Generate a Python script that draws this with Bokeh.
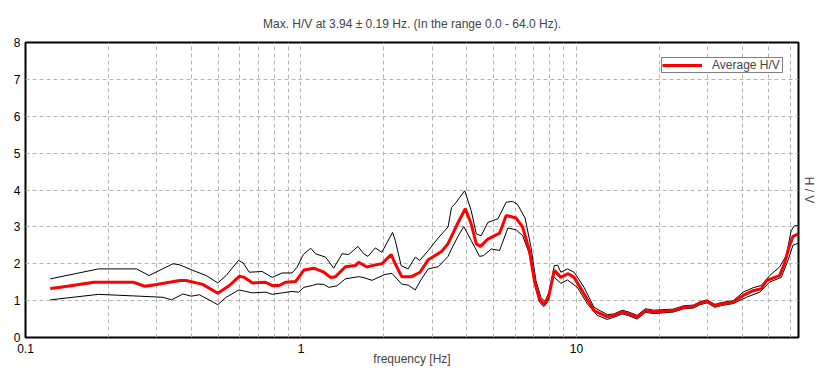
from bokeh.plotting import figure
from bokeh.models import (Range1d, FixedTicker, CustomJSTickFormatter, LinearAxis,
                          Legend, LegendItem)
from bokeh.embed import file_html
from bokeh.resources import INLINE

TITLE = "Max. H/V at 3.94 \u00b1 0.19 Hz. (In the range 0.0 - 64.0 Hz)."
X_LABEL = "frequency [Hz]"
Y_LABEL = "H / V"
LEGEND_LABEL = "Average H/V"

x_tick_values = [0.1, 1, 10]
y_tick_values = [0, 1, 2, 3, 4, 5, 6, 7, 8]
x_grid_values = [0.2, 0.3, 0.4, 0.5, 0.6, 0.7, 0.8, 0.9, 1, 2, 3, 4, 5, 6, 7, 8, 9,
                 10, 20, 30, 40, 50, 60]

freq_avg = [0.123, 0.134, 0.177, 0.246, 0.271, 0.299, 0.363, 0.383, 0.440, 0.499,
            0.550, 0.597, 0.623, 0.667, 0.705, 0.74, 0.788, 0.833, 0.881, 0.957,
            1.025, 1.114, 1.211, 1.280, 1.335, 1.450, 1.576, 1.620, 1.736, 1.861,
            1.966, 2.126, 2.185, 2.321, 2.523, 2.704, 2.898, 3.237, 3.422, 3.52,
            3.72, 3.95, 4.15, 4.33, 4.49, 4.77, 5.26, 5.56, 6.04, 6.38,
            6.75, 7.04, 7.34, 7.65, 7.92, 8.31, 8.78, 9.33, 9.81, 10.66,
            11.58, 12.94, 13.7, 14.66, 15.5, 16.6, 17.8, 19.1, 22.5, 24.5,
            26.6, 28.1, 29.8, 31.8, 33.7, 37.1, 40.3, 43.8, 46.9, 48.9,
            54.6, 56.9, 59.1, 61.1, 64.0]
hv_avg = [1.33, 1.36, 1.50, 1.50, 1.39, 1.44, 1.545, 1.545, 1.44, 1.20,
          1.41, 1.66, 1.63, 1.48, 1.49, 1.50, 1.41, 1.41, 1.50, 1.52,
          1.83, 1.88, 1.77, 1.63, 1.65, 1.92, 1.95, 2.04, 1.91, 1.97,
          2.00, 2.25, 2.04, 1.65, 1.65, 1.77, 2.11, 2.33, 2.55, 2.74,
          3.12, 3.49, 3.08, 2.54, 2.47, 2.67, 2.83, 3.31, 3.24, 2.99,
          2.36, 1.54, 1.05, 0.89, 1.09, 1.82, 1.63, 1.73, 1.63, 1.18,
          0.73, 0.56, 0.60, 0.69, 0.64, 0.55, 0.73, 0.69, 0.73, 0.82,
          0.84, 0.93, 0.98, 0.86, 0.91, 0.96, 1.14, 1.27, 1.32, 1.54,
          1.68, 2.00, 2.45, 2.74, 2.81]

freq_up = [0.123, 0.184, 0.253, 0.281, 0.343, 0.363, 0.405, 0.453, 0.499, 0.535,
           0.593, 0.617, 0.649, 0.723, 0.786, 0.854, 0.928, 0.967, 1.02, 1.085,
           1.13, 1.228, 1.315, 1.41, 1.49, 1.61, 1.69, 1.75, 1.861, 1.966,
           2.15, 2.20, 2.31, 2.45, 2.60, 2.70, 2.90, 3.15, 3.42, 3.52,
           3.62, 3.93, 4.15, 4.33, 4.51, 4.77, 5.19, 5.56, 5.87, 6.12,
           6.51, 6.84, 7.13, 7.43, 7.68, 7.97, 8.31, 8.55, 8.78, 9.28,
           9.81, 10.66, 11.58, 12.94, 13.7, 14.66, 15.5, 16.6, 17.8, 19.1,
           22.5, 24.5, 26.6, 28.1, 29.8, 31.8, 33.7, 37.1, 40.3, 43.8,
           46.9, 50.3, 54.6, 57.8, 60.2, 61.9, 64.0]
hv_up = [1.59, 1.86, 1.86, 1.68, 2.00, 1.97, 1.82, 1.68, 1.48, 1.68,
         2.09, 2.02, 1.77, 1.79, 1.63, 1.75, 1.75, 1.90, 2.25, 2.42,
         2.27, 2.18, 1.88, 2.27, 2.25, 2.47, 2.27, 2.20, 2.43, 2.31,
         2.85, 2.63, 1.95, 1.86, 2.18, 2.09, 2.36, 2.70, 3.00, 3.53,
         3.62, 3.98, 3.44, 2.81, 2.76, 3.12, 3.22, 3.67, 3.69, 3.60,
         3.24, 2.45, 1.54, 1.09, 0.98, 1.23, 1.95, 1.96, 1.77, 1.86,
         1.77, 1.36, 0.82, 0.62, 0.64, 0.74, 0.69, 0.60, 0.78, 0.74,
         0.77, 0.86, 0.88, 0.97, 1.02, 0.90, 0.95, 1.00, 1.23, 1.35,
         1.41, 1.68, 1.91, 2.22, 2.90, 3.03, 3.03]

freq_lo = [0.123, 0.184, 0.260, 0.316, 0.339, 0.373, 0.400, 0.428, 0.499, 0.535,
           0.595, 0.631, 0.665, 0.746, 0.786, 0.854, 0.928, 0.98, 1.025, 1.099,
           1.144, 1.21, 1.262, 1.35, 1.45, 1.62, 1.68, 1.81, 2.02, 2.14,
           2.32, 2.45, 2.60, 2.74, 2.90, 3.15, 3.42, 3.52, 3.72, 3.90,
           4.15, 4.45, 4.60, 4.91, 5.26, 5.64, 6.04, 6.38, 6.75, 7.04,
           7.34, 7.62, 7.92, 8.19, 8.78, 9.28, 10.08, 10.96, 11.9, 12.94,
           13.7, 14.66, 15.5, 16.6, 17.8, 19.1, 22.5, 24.5, 26.6, 28.1,
           29.8, 31.8, 33.7, 37.1, 41.4, 46.3, 50.2, 55.4, 58.6, 61.1, 64.0]
hv_lo = [1.02, 1.17, 1.12, 1.09, 1.02, 1.18, 1.12, 1.16, 0.89, 1.09,
         1.29, 1.25, 1.21, 1.23, 1.17, 1.21, 1.25, 1.23, 1.36, 1.41,
         1.45, 1.44, 1.36, 1.40, 1.59, 1.65, 1.63, 1.55, 1.71, 1.74,
         1.45, 1.42, 1.29, 1.59, 1.86, 1.92, 2.20, 2.40, 2.75, 3.01,
         2.63, 2.20, 2.22, 2.40, 2.36, 2.97, 2.92, 2.76, 2.27, 1.45,
         0.96, 0.84, 1.00, 1.68, 1.47, 1.56, 1.36, 0.91, 0.60, 0.49,
         0.55, 0.64, 0.59, 0.50, 0.68, 0.65, 0.69, 0.78, 0.80, 0.89,
         0.94, 0.82, 0.87, 0.92, 1.09, 1.23, 1.50, 1.63, 2.09, 2.50, 2.56]

FONT = "Liberation Sans"

p = figure(width=818, height=373, x_axis_type="log",
           x_range=Range1d(0.1, 64), y_range=Range1d(0, 8),
           output_backend="svg", toolbar_location=None,
           min_border_left=25, min_border_right=16, min_border_top=42,
           min_border_bottom=36)
p.background_fill_color = "white"
p.border_fill_color = "white"
p.outline_line_color = "black"
p.outline_line_width = 2

p.title.text = TITLE
p.title.align = "center"
p.title.text_font = FONT
p.title.text_font_size = "12px"
p.title.text_font_style = "normal"
p.title.standoff = 23

# axes
xa = p.xaxis[0]
xa.ticker = FixedTicker(ticks=x_tick_values, minor_ticks=[])
xa.formatter = CustomJSTickFormatter(code="return tick < 1 ? tick.toFixed(1) : tick.toFixed(0);")
xa.axis_label = X_LABEL
ya = p.yaxis[0]
ya.ticker = FixedTicker(ticks=y_tick_values, minor_ticks=[])
for ax in (xa, ya):
    ax.axis_line_color = None
    ax.major_tick_line_color = None
    ax.minor_tick_line_color = None
    ax.major_tick_out = 0
    ax.major_tick_in = 0
    ax.minor_tick_out = 0
    ax.minor_tick_in = 0
    ax.major_label_text_font = FONT
    ax.major_label_text_font_size = "12px"
    ax.major_label_text_color = "black"
    ax.axis_label_text_font = FONT
    ax.axis_label_text_font_size = "12px"
    ax.axis_label_text_font_style = "normal"
xa.major_label_standoff = 6
ya.major_label_standoff = 5
xa.axis_label_standoff = -4

# right-hand axis title only
ra = LinearAxis(ticker=FixedTicker(ticks=[], minor_ticks=[]), axis_label=Y_LABEL,
                axis_line_color=None, major_tick_line_color=None,
                minor_tick_line_color=None, major_tick_out=0, major_tick_in=0,
                minor_tick_out=0, minor_tick_in=0, major_label_standoff=0,
                major_label_text_font_size="0px", axis_label_standoff=3,
                axis_label_text_font=FONT, axis_label_text_font_size="12px",
                axis_label_text_font_style="normal")
p.add_layout(ra, "right")

# grids
p.xgrid.ticker = FixedTicker(ticks=x_grid_values, minor_ticks=[])
p.ygrid.ticker = FixedTicker(ticks=y_tick_values[1:-1], minor_ticks=[])
for g in (p.xgrid, p.ygrid):
    g.grid_line_color = "#b4b4b4"
    g.grid_line_dash = "4 3"
    g.grid_line_width = 1

# lines
p.line(freq_up, hv_up, color="black", line_width=1)
p.line(freq_lo, hv_lo, color="black", line_width=1)
r_avg = p.line(freq_avg, hv_avg, color="#ff0000", line_width=3)

legend = Legend(items=[LegendItem(label=LEGEND_LABEL, renderers=[r_avg])],
                location="top_right", margin=15, padding=0,
                glyph_width=40, glyph_height=8, label_height=8, label_width=70,
                label_standoff=10, spacing=0,
                label_text_font=FONT, label_text_font_size="12px",
                border_line_color="black", border_line_width=1,
                background_fill_color="white", background_fill_alpha=1)
p.add_layout(legend)

open("out.html", "w").write(file_html(p, INLINE))
